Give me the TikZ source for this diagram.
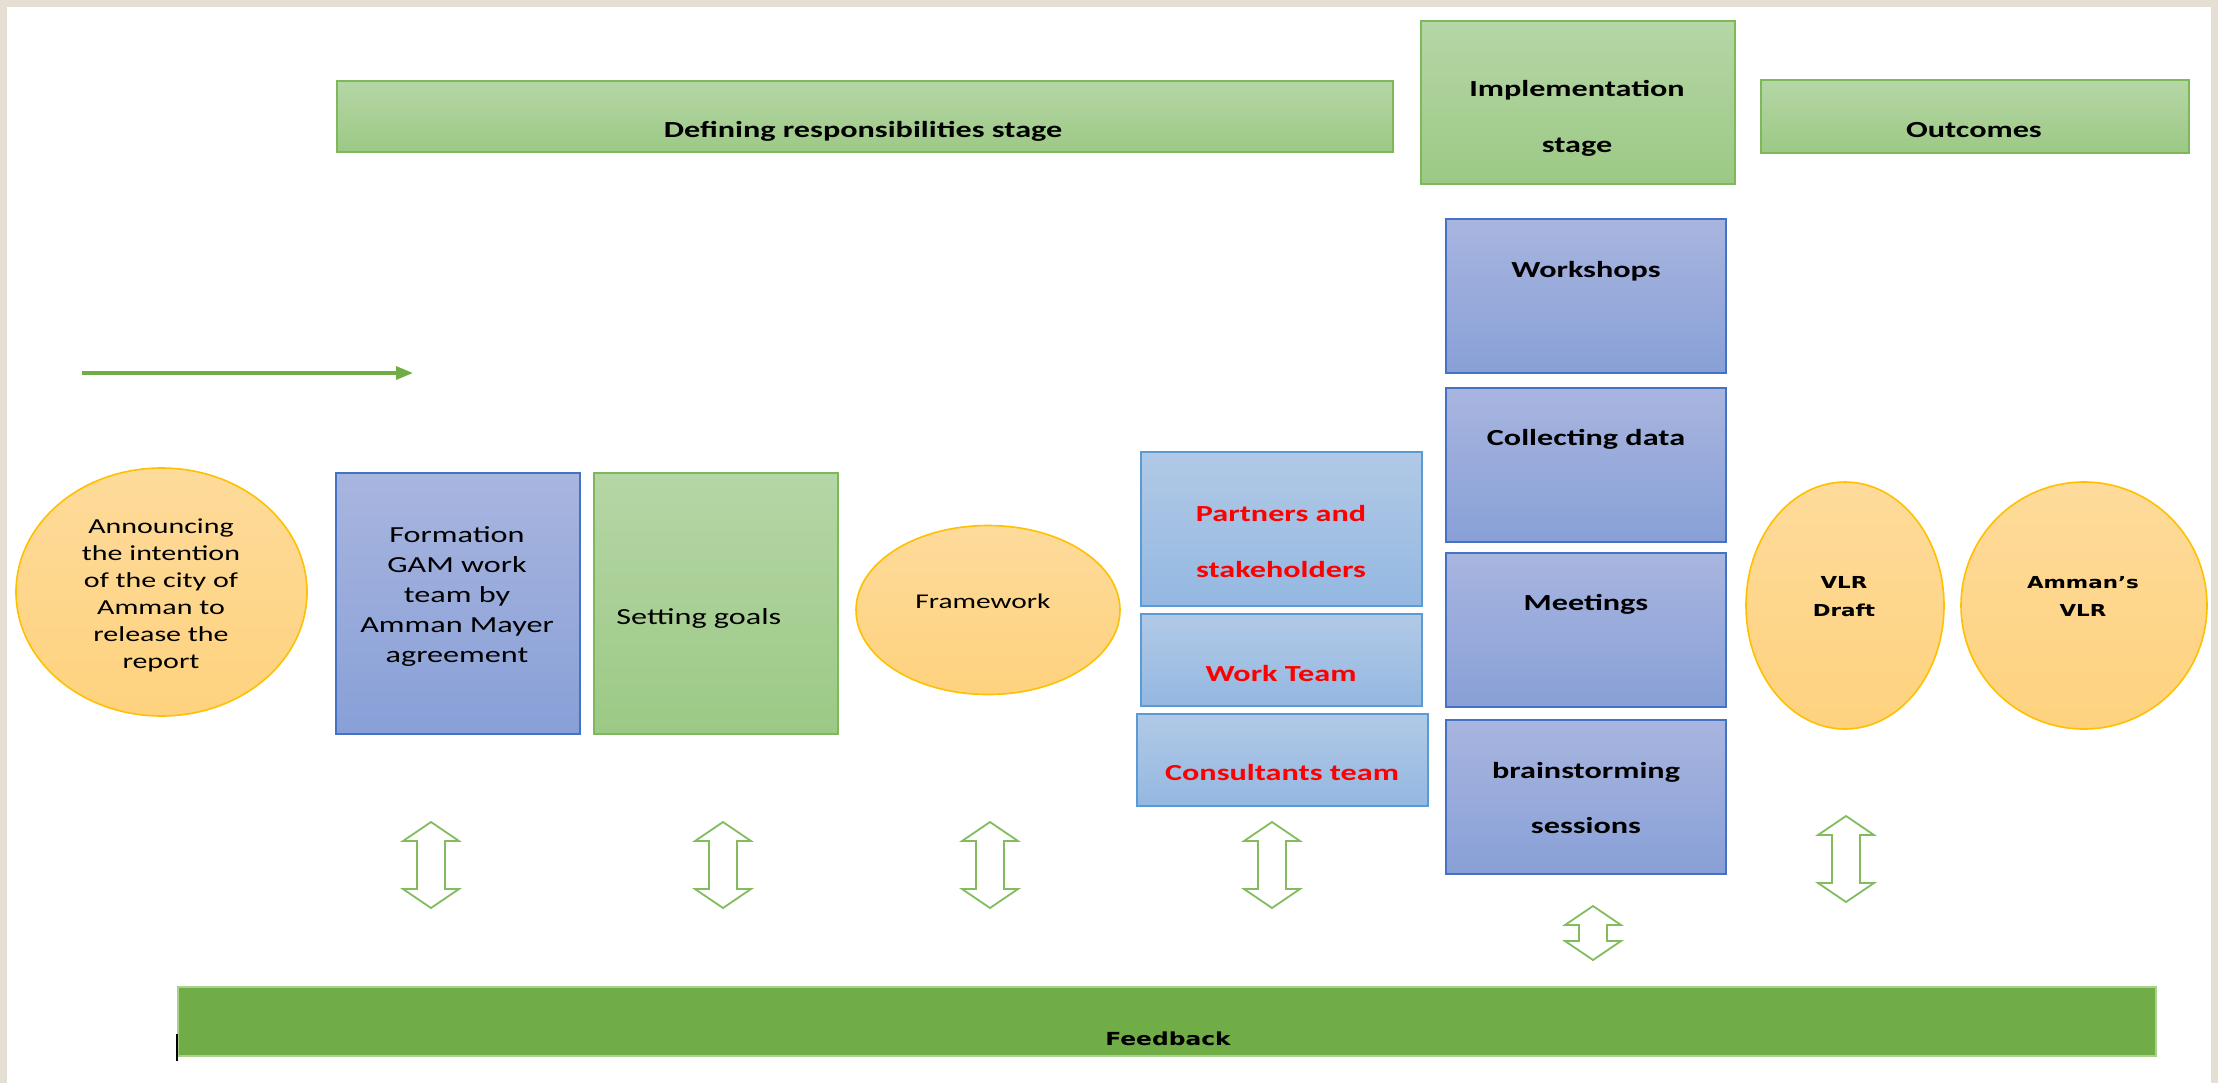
\documentclass[tikz,border=0pt]{standalone}
\usepackage{fontspec}
\setmainfont{Carlito}[FakeStretch=1.4]
\newfontfamily\roundfont{DejaVu Sans}[FakeStretch=1.3]
\usetikzlibrary{arrows.meta}
\definecolor{pagebeige}{HTML}{E5DED2}
\definecolor{officegreen}{HTML}{70AD47}
\definecolor{feedline}{HTML}{A9D18E}
\definecolor{arrowline}{HTML}{82BC5E}
\definecolor{greenline}{HTML}{7DB85A}
\definecolor{greentop}{HTML}{B5D6A6}
\definecolor{greenbottom}{HTML}{9CC985}
\definecolor{blueline}{HTML}{4472C4}
\definecolor{bluetop}{HTML}{A8B5DF}
\definecolor{bluebottom}{HTML}{88A0D7}
\definecolor{skyline}{HTML}{5B9BD5}
\definecolor{skytop}{HTML}{B1C9E6}
\definecolor{skybottom}{HTML}{94B8E1}
\definecolor{orangeline}{HTML}{FFC000}
\definecolor{orangetop}{HTML}{FEDB9B}
\definecolor{orangebottom}{HTML}{FED27E}
\definecolor{teamred}{HTML}{FF0000}

\tikzset{
  greenbox/.style={draw=greenline, line width=0.8pt, top color=greentop, bottom color=greenbottom},
  bluebox/.style={draw=blueline, line width=0.8pt, top color=bluetop, bottom color=bluebottom},
  skybox/.style={draw=skyline, line width=0.8pt, top color=skytop, bottom color=skybottom},
  orangeball/.style={draw=orangeline, line width=0.8pt, top color=orangetop, bottom color=orangebottom},
  plaintext/.style={anchor=base, inner sep=0pt, font=\fontsize{11.5}{14}\selectfont},
  boldtext/.style={plaintext, font=\fontsize{11.5}{14}\selectfont\bfseries},
  teamtext/.style={boldtext, text=teamred},
  roundtext/.style={anchor=base, inner sep=0pt, font=\roundfont\fontsize{8.25}{10}\selectfont\bfseries},
  twoway/.style={draw=arrowline, line width=0.9pt, fill=white, line join=miter},
  pics/updown/.style={code={
    \draw[twoway] (0,-#1) -- (28,{19-#1}) -- (14,{19-#1}) -- (14,{#1-19}) -- (28,{#1-19})
      -- (0,#1) -- (-28,{#1-19}) -- (-14,{#1-19}) -- (-14,{19-#1}) -- (-28,{19-#1}) -- cycle;
  }}
}

\begin{document}
\begin{tikzpicture}[x=0.5pt,y=-0.5pt]
\useasboundingbox (0,0) rectangle (2218,1083);
% page frame
\fill[pagebeige] (0,0) rectangle (2218,1083);
\fill[white] (7,7) rectangle (2211,1083);

% stage banners
\path[greenbox] (337,81) rectangle (1393,152);
\node[boldtext] (defining) at (863,137) {Defining responsibilities stage};
\path[greenbox] (1421,21) rectangle (1735,184);
\node[boldtext] (impl-1) at (1577,96) {Implementation};
\node[boldtext] (impl-2) at (1577,152) {stage};
\path[greenbox] (1761,80) rectangle (2189,153);
\node[boldtext] (outcomes) at (1974,137) {Outcomes};

% direction arrow
\coordinate (flowstart) at (82,373);
\coordinate (flowend) at (413,373);
\draw[officegreen, line width=1.6pt, -{Triangle[length=8.5pt,width=6.5pt]}] (flowstart) -- (flowend);

% announcement
\path[orangeball] (161.5,592) ellipse [x radius=145.5, y radius=124];
\foreach \line [count=\i] in {Announcing,the intention,of the city of,Amman to,release the,report}
  \node[plaintext, font=\fontsize{10.7}{13}\selectfont] (announce-\i) at (161,{506+27*\i}) {\line};

% work team and goals
\path[bluebox] (336,473) rectangle (580,734);
\foreach \line [count=\i] in {Formation,GAM work,team by,Amman Mayer,agreement}
  \node[plaintext] (formation-\i) at (457,{512+30*\i}) {\line};
\path[greenbox] (594,473) rectangle (838,734);
\node[plaintext, anchor=base west] (goals) at (616,624) {Setting goals};

% framework
\path[orangeball] (988,610) ellipse [x radius=132, y radius=84.5];
\node[plaintext, font=\fontsize{10.5}{12}\selectfont] (framework) at (983,608) {Framework};

% partners, team and consultants
\path[skybox] (1141,452) rectangle (1422,606);
\path[skybox] (1141,614) rectangle (1422,706);
\path[skybox] (1137,714) rectangle (1428,806);
\node[teamtext] (partners-1) at (1281,521) {Partners and};
\node[teamtext] (partners-2) at (1281,577) {stakeholders};
\node[teamtext] (workteam) at (1281,681) {Work Team};
\node[teamtext] (consultants) at (1282,780) {Consultants team};

% implementation activities
\foreach \ytop in {219,388,553,720}
  \path[bluebox] (1446,\ytop) rectangle (1726,{\ytop+154});
\node[boldtext] (workshops) at (1586,277) {Workshops};
\node[boldtext] (collecting) at (1586,445) {Collecting data};
\node[boldtext] (meetings) at (1586,610) {Meetings};
\node[boldtext] (brainstorm-1) at (1586,778) {brainstorming};
\node[boldtext] (brainstorm-2) at (1586,833) {sessions};

% outcomes
\path[orangeball] (1845,605.5) ellipse [x radius=99, y radius=123.5];
\path[orangeball] (2084,605.5) ellipse [x radius=123, y radius=123.5];
\node[roundtext] (draft-1) at (1844,588) {VLR};
\node[roundtext] (draft-2) at (1844,616) {Draft};
\node[roundtext] (vlr-1) at (2083,588) {Amman’s};
\node[roundtext] (vlr-2) at (2083,616) {VLR};

% feedback arrows
\foreach \x in {431,723,990,1272}
  \pic at (\x,865) {updown=43};
\pic at (1846,859) {updown=43};
\pic at (1593,933) {updown=27};

% feedback bar
\path[fill=officegreen, draw=feedline, line width=0.8pt] (178,987) rectangle (2156,1056);
\node[roundtext, font=\roundfont\fontsize{9}{11}\selectfont\bfseries] (feedback) at (1168,1045) {Feedback};
\draw[black, line width=1pt] (177,1034) -- (177,1061);
\end{tikzpicture}
\end{document}
